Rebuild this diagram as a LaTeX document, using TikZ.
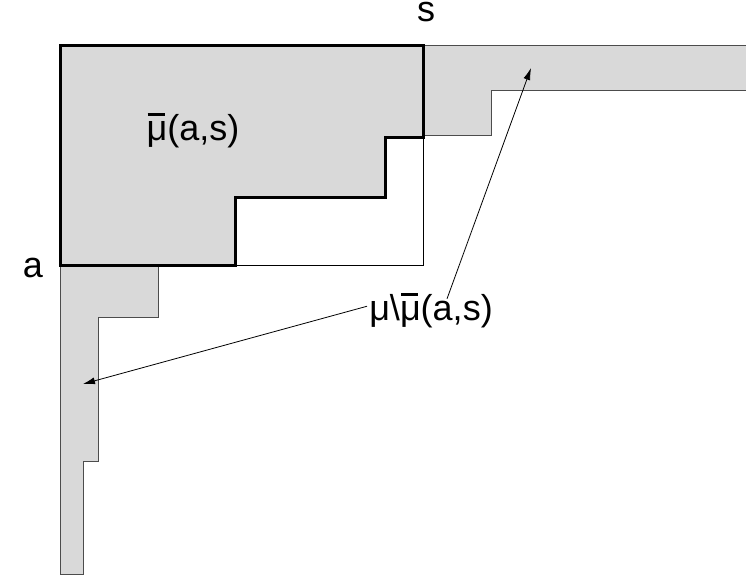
\documentclass[tikz,border=0pt]{standalone}
\usepackage{fontspec}
\setmainfont{Liberation Sans}
\usepackage{tikz}
\usetikzlibrary{arrows.meta}

\definecolor{shade}{RGB}{217,217,217}
\newcommand{\mubar}{\leavevmode\rlap{\hspace{0.03em}\raisebox{0.68em}{\rule{0.48em}{0.07em}}}μ}

\begin{document}
\begin{tikzpicture}[x=1pt,y=-1pt]

  \tikzset{REG/.style={fill=shade, draw=black!70, line width=1pt}}
  \tikzset{LBL/.style={font=\fontsize{36}{40}\selectfont, inner sep=0pt, anchor=base}}
  \tikzset{PTR/.style={-{Latex[length=12pt,width=7pt]}, line width=0.8pt}}

  \useasboundingbox (0,0) rectangle (746,579);

  % outer rectangle
  \draw[line width=0.8pt] (235,265) -- (423,265) -- (423,135);

  % strips
  \draw[REG] (423,45) -- (746,45) -- (746,90) -- (491,90) -- (491,135) -- (423,135) -- cycle;
  \draw[REG] (60,265) -- (158,265) -- (158,317) -- (98,317) -- (98,461)
             -- (83,461) -- (83,574) -- (60,574) -- cycle;

  % staircase
  \draw[fill=shade, line width=3pt, line join=miter]
       (60,45) -- (423,45) -- (423,137) -- (385,137) -- (385,197)
       -- (235,197) -- (235,265) -- (60,265) -- cycle;

  \node[LBL] (s) at (426,21.5) {s};
  \node[LBL] (a) at (33,277) {a};
  \node[LBL] (mb) at (193,140) {\mubar(a,s)};
  \node[LBL] (md) at (431,320) {μ\textbackslash\mubar(a,s)};

  \coordinate (t0) at (531,68);
  \coordinate (t1) at (83,384);

  \draw[PTR] (md.north) ++(16,6) -- (t0);
  \draw[PTR] (md.west) ++(-2,-4) -- (t1);
\end{tikzpicture}
\end{document}
